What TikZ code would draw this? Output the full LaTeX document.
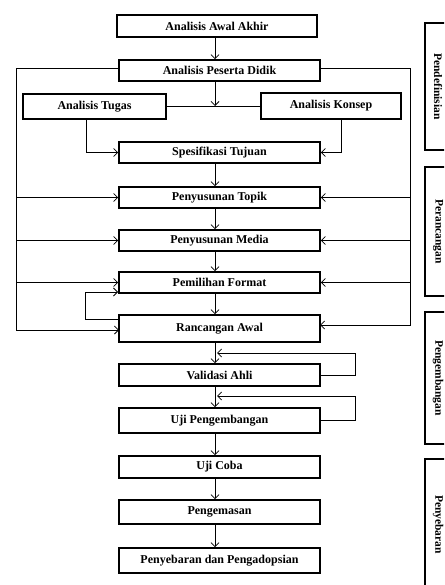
\documentclass[tikz,border=0pt]{standalone}
\usepackage{fontspec}
\setmainfont{Liberation Serif}
\usetikzlibrary{arrows.meta,calc}
\begin{document}
\begin{tikzpicture}[x=1pt,y=-1pt,
  box/.style={draw,line width=1.6pt,inner sep=0pt,font=\bfseries\fontsize{12}{14}\selectfont},
  mainbox/.style={box,minimum width=201pt},
  phase/.style={draw,line width=1.4pt,inner sep=0pt,rotate=-90,minimum height=26pt,font=\bfseries\fontsize{11.5}{13}\selectfont},
  arr/.style={-{Straight Barb[length=4pt,width=8pt]},line width=0.8pt},
  conn/.style={line width=0.8pt}]
\useasboundingbox (0,0) rectangle (444,585);
\clip (0,0) rectangle (444,585);
% main column
\node[box,minimum width=200pt,minimum height=22pt] (awal) at (217,26) {Analisis Awal Akhir};
\node[mainbox,minimum height=21pt] (peserta) at (219.5,70.5) {Analisis Peserta Didik};
\node[box,minimum width=143pt,minimum height=25pt] (tugas) at (94.5,106.5) {Analisis Tugas};
\node[box,minimum width=140pt,minimum height=26pt] (konsep) at (331,106) {Analisis Konsep};
\node[mainbox,minimum height=21pt] (spes) at (219.5,152.5) {Spesifikasi Tujuan};
\node[mainbox,minimum height=21pt] (topik) at (219.5,197.5) {Penyusunan Topik};
\node[mainbox,minimum height=21pt] (media) at (219.5,240.5) {Penyusunan Media};
\node[mainbox,minimum height=21pt] (format) at (219.5,282.5) {Pemilihan Format};
\node[mainbox,minimum height=27pt] (ranc) at (219.5,328.5) {Rancangan Awal};
\node[mainbox,minimum height=22pt] (valid) at (219.5,375) {Validasi Ahli};
\node[mainbox,minimum height=25pt] (ujip) at (219.5,420.5) {Uji Pengembangan};
\node[mainbox,minimum height=22pt] (ujic) at (219.5,467) {Uji Coba};
\node[mainbox,minimum height=24pt] (kemas) at (219.5,512) {Pengemasan};
\node[mainbox,minimum height=25pt] (sebar) at (219.5,560.5) {Penyebaran dan Pengadopsian};
% phase boxes
\node[phase,minimum width=127pt] (p1) at (438,86.5) {Pendefinisian};
\node[phase,minimum width=129pt] (p2) at (438,231.5) {Perancangan};
\node[phase,minimum width=132pt] (p3) at (438,378) {Pengembangan};
\node[phase,minimum width=131pt] (p4) at (438,524.5) {Penyebaran};
% helper coordinates
\coordinate (cx) at (215,0);
\coordinate (L) at (16,0);
\coordinate (R) at (410,0);
\coordinate (ly) at (0,68);
\coordinate (j) at (215,106);
\coordinate (tx) at (86,0);
\coordinate (kx) at (341,0);
\coordinate (lb) at (16,330);
\coordinate (lbe) at (119,330);
\coordinate (rb) at (410,325);
\coordinate (rbe) at (320,325);
\coordinate (fb0) at (119,319);
\coordinate (fb1) at (85,292);
\coordinate (fb2) at (118,292);
\coordinate (v1) at (355,353);
\coordinate (v2) at (217,353);
\coordinate (u1) at (355,396);
\coordinate (u2) at (217,396);
% vertical flow
\draw[arr] (awal.south -| cx) -- (peserta.north -| cx);
\draw[arr] (peserta.south -| cx) -- (j);
\draw[conn] (tugas.east) -- (tugas.east -| konsep.west);
\draw[arr] (tugas.south -| tx) |- (spes.west);
\draw[arr] (konsep.south -| kx) |- (spes.east);
\draw[arr] (spes.south -| cx) -- (topik.north -| cx);
\draw[arr] (topik.south -| cx) -- (media.north -| cx);
\draw[arr] (media.south -| cx) -- (format.north -| cx);
\draw[arr] (format.south -| cx) -- (ranc.north -| cx);
\draw[arr] (ranc.south -| cx) -- (valid.north -| cx);
\draw[arr] (valid.south -| cx) -- (ujip.north -| cx);
\draw[arr] (ujip.south -| cx) -- (ujic.north -| cx);
\draw[arr] (ujic.south -| cx) -- (kemas.north -| cx);
\draw[arr] (kemas.south -| cx) -- (sebar.north -| cx);
% left outer line
\draw[arr] (peserta.west |- ly) -| (lb) -- (lbe);
\draw[arr] (L |- topik.west) -- (topik.west);
\draw[arr] (L |- media.west) -- (media.west);
\draw[arr] (L |- format.west) -- (format.west);
% right outer line
\draw[arr] (peserta.east |- ly) -| (rb) -- (rbe);
\draw[arr] (R |- topik.east) -- (topik.east);
\draw[arr] (R |- media.east) -- (media.east);
\draw[arr] (R |- format.east) -- (format.east);
% feedback loops
\draw[arr] (fb0) -| (fb1) -- (fb2);
\draw[arr] (valid.east) -| (v1) -- (v2);
\draw[arr] (ujip.east) -| (u1) -- (u2);
\end{tikzpicture}
\end{document}
